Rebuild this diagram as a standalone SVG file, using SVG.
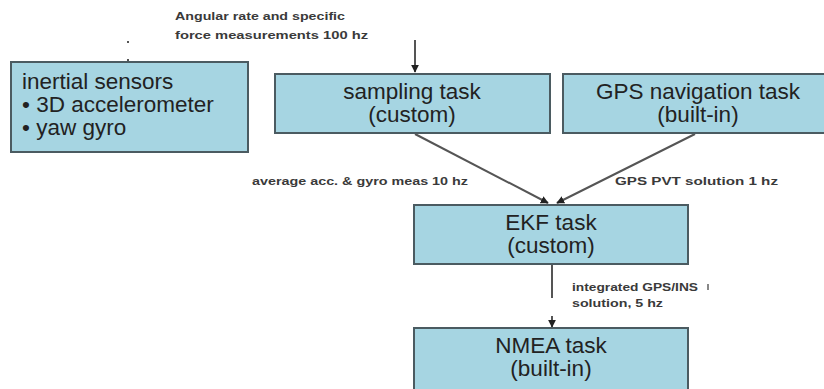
<svg xmlns="http://www.w3.org/2000/svg" width="824" height="389" viewBox="0 0 824 389">
<style>
.box{fill:#a6d5e2;stroke:#4b5b61;stroke-width:2}
.t{font-family:"Liberation Sans",Arial,sans-serif;font-size:22.5px;fill:#222}
.c{text-anchor:middle}
.lbl{font-family:"Liberation Sans",Arial,sans-serif;font-size:11px;font-weight:bold;fill:#3a3a3a}
.ln{stroke:#555;stroke-width:2;fill:none}
</style>
<defs>
<marker id="ah" viewBox="0 0 10 10" refX="9" refY="5" markerWidth="4" markerHeight="4" orient="auto">
<path d="M0,0 L10,5 L0,10 z" fill="#222"/>
</marker>
</defs>
<rect width="824" height="389" fill="#fff"/>
<g id="connectors">
<line class="ln" x1="415" y1="40" x2="415" y2="72" marker-end="url(#ah)"/>
<line class="ln" x1="415" y1="134" x2="548" y2="203" marker-end="url(#ah)"/>
<line class="ln" x1="695" y1="134" x2="557" y2="203" marker-end="url(#ah)"/>
<line class="ln" x1="552" y1="265" x2="552" y2="298"/>
<line class="ln" x1="552" y1="316" x2="552" y2="327" marker-end="url(#ah)"/>
<rect x="127" y="41" width="2" height="2" fill="#555"/>
<rect x="127" y="59" width="2" height="2" fill="#555"/>
<rect x="707" y="284" width="2" height="6" fill="#888"/>
</g>
<g id="labels">
<text class="lbl" x="175" y="20" textLength="170" lengthAdjust="spacingAndGlyphs">Angular rate and specific</text>
<text class="lbl" x="175" y="39" textLength="193" lengthAdjust="spacingAndGlyphs">force measurements 100 hz</text>
<text class="lbl" x="252" y="185" textLength="216" lengthAdjust="spacingAndGlyphs">average acc. &amp; gyro meas 10 hz</text>
<text class="lbl" x="615" y="185" textLength="163" lengthAdjust="spacingAndGlyphs">GPS PVT solution 1 hz</text>
<text class="lbl" x="572" y="291" textLength="126" lengthAdjust="spacingAndGlyphs">integrated GPS/INS</text>
<text class="lbl" x="572" y="307" textLength="91" lengthAdjust="spacingAndGlyphs">solution, 5 hz</text>
</g>
<g id="inertial">
<rect class="box" x="11" y="62" width="237" height="90"/>
<text class="t" x="22" y="89">inertial sensors</text>
<text class="t" x="22" y="112">• 3D accelerometer</text>
<text class="t" x="22" y="135">• yaw gyro</text>
</g>
<g id="sampling">
<rect class="box" x="275" y="74" width="275" height="59"/>
<text class="t c" x="412" y="99">sampling task</text>
<text class="t c" x="412" y="122">(custom)</text>
</g>
<g id="gps">
<rect class="box" x="563" y="74" width="272" height="59"/>
<text class="t c" x="698" y="99">GPS navigation task</text>
<text class="t c" x="698" y="122">(built-in)</text>
</g>
<g id="ekf">
<rect class="box" x="414" y="205" width="274" height="59"/>
<text class="t c" x="551" y="230">EKF task</text>
<text class="t c" x="551" y="253">(custom)</text>
</g>
<g id="nmea">
<rect class="box" x="414" y="328" width="274" height="62"/>
<text class="t c" x="551" y="353">NMEA task</text>
<text class="t c" x="551" y="376">(built-in)</text>
</g>
</svg>
